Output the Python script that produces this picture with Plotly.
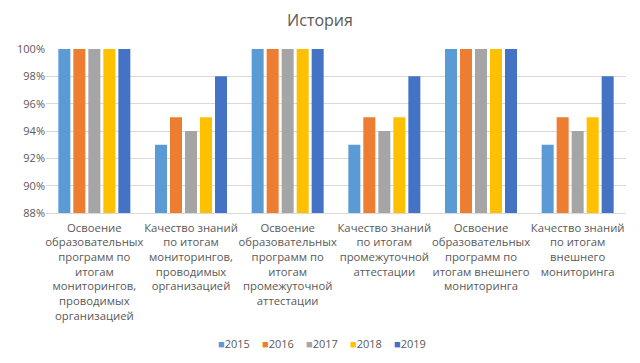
import plotly.graph_objects as go

categories = [
    "Освоение<br>образовательных<br>программ по<br>итогам<br>мониторингов,<br>проводимых<br>организацией",
    "Качество знаний<br>по итогам<br>мониторингов,<br>проводимых<br>организацией",
    "Освоение<br>образовательных<br>программ по<br>итогам<br>промежуточной<br>аттестации",
    "Качество знаний<br>по итогам<br>промежуточной<br>аттестации",
    "Освоение<br>образовательных<br>программ по<br>итогам внешнего<br>мониторинга",
    "Качество знаний<br>по итогам<br>внешнего<br>мониторинга",
]
years = ["2015", "2016", "2017", "2018", "2019"]
values = {
    "2015": [1.00, 0.93, 1.00, 0.93, 1.00, 0.93],
    "2016": [1.00, 0.95, 1.00, 0.95, 1.00, 0.95],
    "2017": [1.00, 0.94, 1.00, 0.94, 1.00, 0.94],
    "2018": [1.00, 0.95, 1.00, 0.95, 1.00, 0.95],
    "2019": [1.00, 0.98, 1.00, 0.98, 1.00, 0.98],
}
colors = ["#5b9bd5", "#ed7d31", "#a5a5a5", "#ffc000", "#4472c4"]
y_ticks = [0.88, 0.90, 0.92, 0.94, 0.96, 0.98, 1.00]

W, H = 640, 363
ML, MR, MT, MB = 46, 14, 49, 150
plot_w = W - ML - MR
plot_h = H - MT - MB

fig = go.Figure()
for yr, c in zip(years, colors):
    fig.add_trace(go.Bar(x=categories, y=values[yr], name=yr, marker_color=c,
                         marker_line_width=0, showlegend=False))

font_c = "#595959"

# compact Excel-style legend built from the series names and colours
leg_start_px, leg_step_px, leg_y_px = 216, 44, 343
for i, (yr, c) in enumerate(zip(years, colors)):
    fig.add_annotation(
        text=f"<span style='color:{c}'>■</span>{yr}",
        x=(leg_start_px + i * leg_step_px - ML) / plot_w, xref="paper", xanchor="left",
        y=(MT + plot_h - leg_y_px) / plot_h - 1 + 1 - 0, yref="paper",
        yanchor="middle", showarrow=False,
        font=dict(family="Open Sans", size=11, color=font_c))

fig.update_layout(
    width=W, height=H,
    margin=dict(l=ML, r=MR, t=MT, b=MB),
    paper_bgcolor="white", plot_bgcolor="white",
    title=dict(text="История", x=0.5, xref="container", xanchor="center",
               y=0.945, yref="container", yanchor="middle",
               font=dict(family="Open Sans", size=16, color=font_c)),
    bargap=0.224, bargroupgap=0.2,
    font=dict(family="Open Sans", size=11, color=font_c),
    showlegend=False,
)
fig.update_yaxes(range=[0.88, 1.0], tickvals=y_ticks, tickformat=".0%",
                 gridcolor="#d9d9d9", gridwidth=1, zeroline=False, showline=False,
                 ticks="", automargin=False, tickfont=dict(size=11, color=font_c))
fig.update_xaxes(showline=True, linecolor="#d9d9d9", ticks="", automargin=False,
                 tickangle=0, ticklabelstandoff=4,
                 tickfont=dict(size=11.3, color=font_c))

fig.write_html("out.html", config={"displayModeBar": False},
               post_script="document.body.style.margin='0px';")
